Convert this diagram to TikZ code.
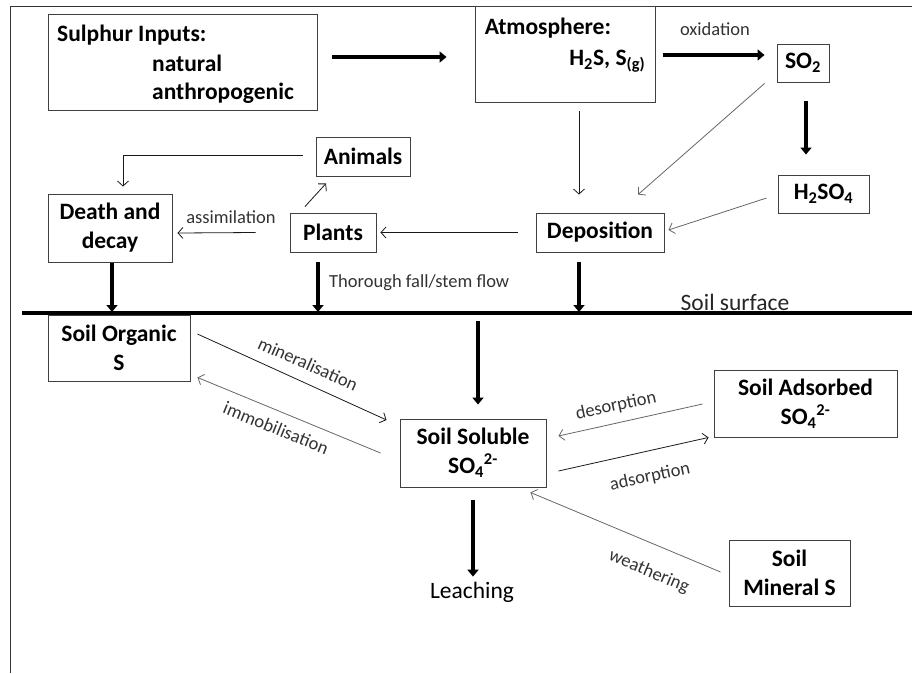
\documentclass[tikz,border=0pt]{standalone}
\usepackage{fontspec}
\setmainfont{Carlito}
\usetikzlibrary{arrows.meta,calc}
\newcommand\bxfont{\fontsize{23.5}{29}\selectfont\bfseries}
\newcommand\lbfont{\fontsize{18.5}{22}\selectfont}
\newcommand\rgfont{\fontsize{23.5}{28}\selectfont}

\begin{document}
\begin{tikzpicture}%
	[x=1pt, y=-1pt,
	box/.style={draw=black!75, line width=0.9pt, inner sep=0pt, font=\bxfont, align=center},
	boxtext/.style={inner sep=0pt, font=\bxfont},
	lbl/.style={inner sep=0pt, font=\lbfont, text=black!80},
	flow/.style={draw=black!90, line width=0.8pt, -{Straight Barb[length=5pt,width=11pt]}},
	greyflow/.style={flow, draw=black!60},
	bigflow/.style={line width=4pt, -{Triangle[length=7pt,width=11pt]}}]
%
\useasboundingbox (0,0) rectangle (912,673);
%% frame
\draw[black!80, line width=0.8pt] (912,6) -- (10,6) -- (10,673);
%%
%% Drawing the boxes above the soil
%%
\node[box, minimum width=269, minimum height=96] (inputs) at (182.5,62) {};
\node[boxtext, anchor=base west] (inputshead) at (57,41) {Sulphur Inputs:};
\node[boxtext, anchor=base west] (natural) at (152,71) {natural};
\node[boxtext, anchor=base west] (anthro) at (152,99) {anthropogenic};
\node[box, minimum width=180, minimum height=96] (atmos) at (565,54) {};
\node[boxtext, anchor=base west] (atmoshead) at ($(atmos.north west)+(10,29)$) {Atmosphere:};
\node[boxtext, anchor=base east] (atmosgas) at ($(atmos.north east)+(-10,60)$) {H\textsubscript{2}S, S\textsubscript{(g)}};
\node[box, minimum width=52, minimum height=38] (so2) at (803,63) {SO\textsubscript{2}};
\node[box, minimum width=91, minimum height=38] (hso) at (823.5,194) {H\textsubscript{2}SO\textsubscript{4}};
\node[box, minimum width=128, minimum height=39] (depo) at (600,232.5) {Deposition};
\node[box, minimum width=86, minimum height=39] (plants) at (333,232.5) {Plants};
\node[box, minimum width=94, minimum height=39] (animals) at (363,156.5) {Animals};
\node[box, minimum width=124, minimum height=68] (death) at (110,228) {Death and\\decay};
%%
%% soil surface
%%
\coordinate (surfL) at (22,313);
\coordinate (surfR) at (912,313);
\draw[line width=3.5pt] (surfL) -- (surfR);
\node[inner sep=0pt, font=\rgfont, text=black!85] (surflbl) at (735,302) {Soil surface};
%%
%% Drawing the boxes below the soil
%%
\node[box, minimum width=142, minimum height=66] (organic) at (119,348) {Soil Organic\\S};
\node[box, minimum width=146, minimum height=68] (soluble) at (473,453) {Soil Soluble\\SO\textsubscript{4}\textsuperscript{2-}};
\node[box, minimum width=183, minimum height=67] (adsorbed) at (805.5,403.5) {Soil Adsorbed\\SO\textsubscript{4}\textsuperscript{2-}};
\node[box, minimum width=121, minimum height=66] (mineral) at (789.5,573) {Soil\\Mineral S};
\node[inner sep=0pt, font=\rgfont] (leach) at (472,592) {Leaching};
%%
%% Drawing the thick arrows
%%
\draw[bigflow] ($(inputs.east)+(15,-5)$) -- ($(atmos.west)+(-28,3)$);
\draw[bigflow] ($(atmos.east)+(8,1)$) -- ($(so2.west)+(-12,-8)$);
\draw[bigflow] ($(so2.south)+(3,19)$) -- ($(hso.north)+(-17.5,-20)$);
\draw[bigflow] ($(death.south)+(2,1)$) -- ($(death.south |- surfL)+(2,-1)$);
\draw[bigflow] ($(plants.south)+(-15,10)$) -- ($(plants.south |- surfL)+(-15,-1)$);
\draw[bigflow] ($(depo.south)+(-21,10)$) -- ($(depo.south |- surfL)+(-21,-1)$);
\draw[bigflow] ($(soluble.north |- surfL)+(5,8)$) -- ($(soluble.north)+(5,-14)$);
\draw[bigflow] ($(soluble.south)+(0,13)$) -- ($(leach.north)+(1,-5)$);
%%
%% Drawing the thin arrows
%%
\draw[greyflow] ($(so2.south west)+(-12,1)$) -- ($(depo.north)+(38,-18)$);
\draw[flow] ($(atmos.south)+(14,9)$) -- ($(depo.north)+(-21,-18)$);
\draw[greyflow] ($(hso.west)+(-11,4)$) -- ($(depo.east)+(4,-2.5)$);
\draw[flow] ($(depo.west)+(-18,0)$) -- ($(plants.east)+(4,0)$);
\draw[flow] ($(plants.west)+(-34,0)$) -- ($(death.east)+(5,5)$);
\draw[flow] ($(plants.north)+(-28,-6)$) -- ($(animals.south)+(-37,7)$);
\draw[flow] ($(animals.west)+(-13,-1)$) -| ($(death.north)+(13,-7)$);
\draw[flow] ($(organic.east)+(7,-14)$) -- ($(soluble.west)+(-13,-33)$);
\draw[greyflow] ($(soluble.west)+(-19,0)$) -- ($(organic.south east)+(7,-4)$);
\draw[greyflow] ($(adsorbed.west)+(-11,0.5)$) -- ($(soluble.east)+(12,-17)$);
\draw[flow] ($(soluble.east)+(12,18)$) -- ($(adsorbed.south west)+(-5,0)$);
\draw[greyflow] ($(mineral.west)+(-8,-1)$) -- ($(soluble.south east)+(-16,5)$);
%%
%% labels
%%
\node[lbl] (oxid) at (715,29) {oxidation};
\node[lbl] (assim) at (231,217) {assimilation};
\node[lbl, anchor=west] (throughfall) at (329,283) {Thorough fall/stem flow};
\node[lbl, rotate=-24] (minlbl) at (308,364) {mineralisation};
\node[lbl, rotate=-22] (immlbl) at (276,428) {immobilisation};
\node[lbl, rotate=12] (deslbl) at (616,406) {desorption};
\node[lbl, rotate=12] (adslbl) at (650,477) {adsorption};
\node[lbl, rotate=-23] (weathlbl) at (649,572) {weathering};

\end{tikzpicture}
\end{document}
